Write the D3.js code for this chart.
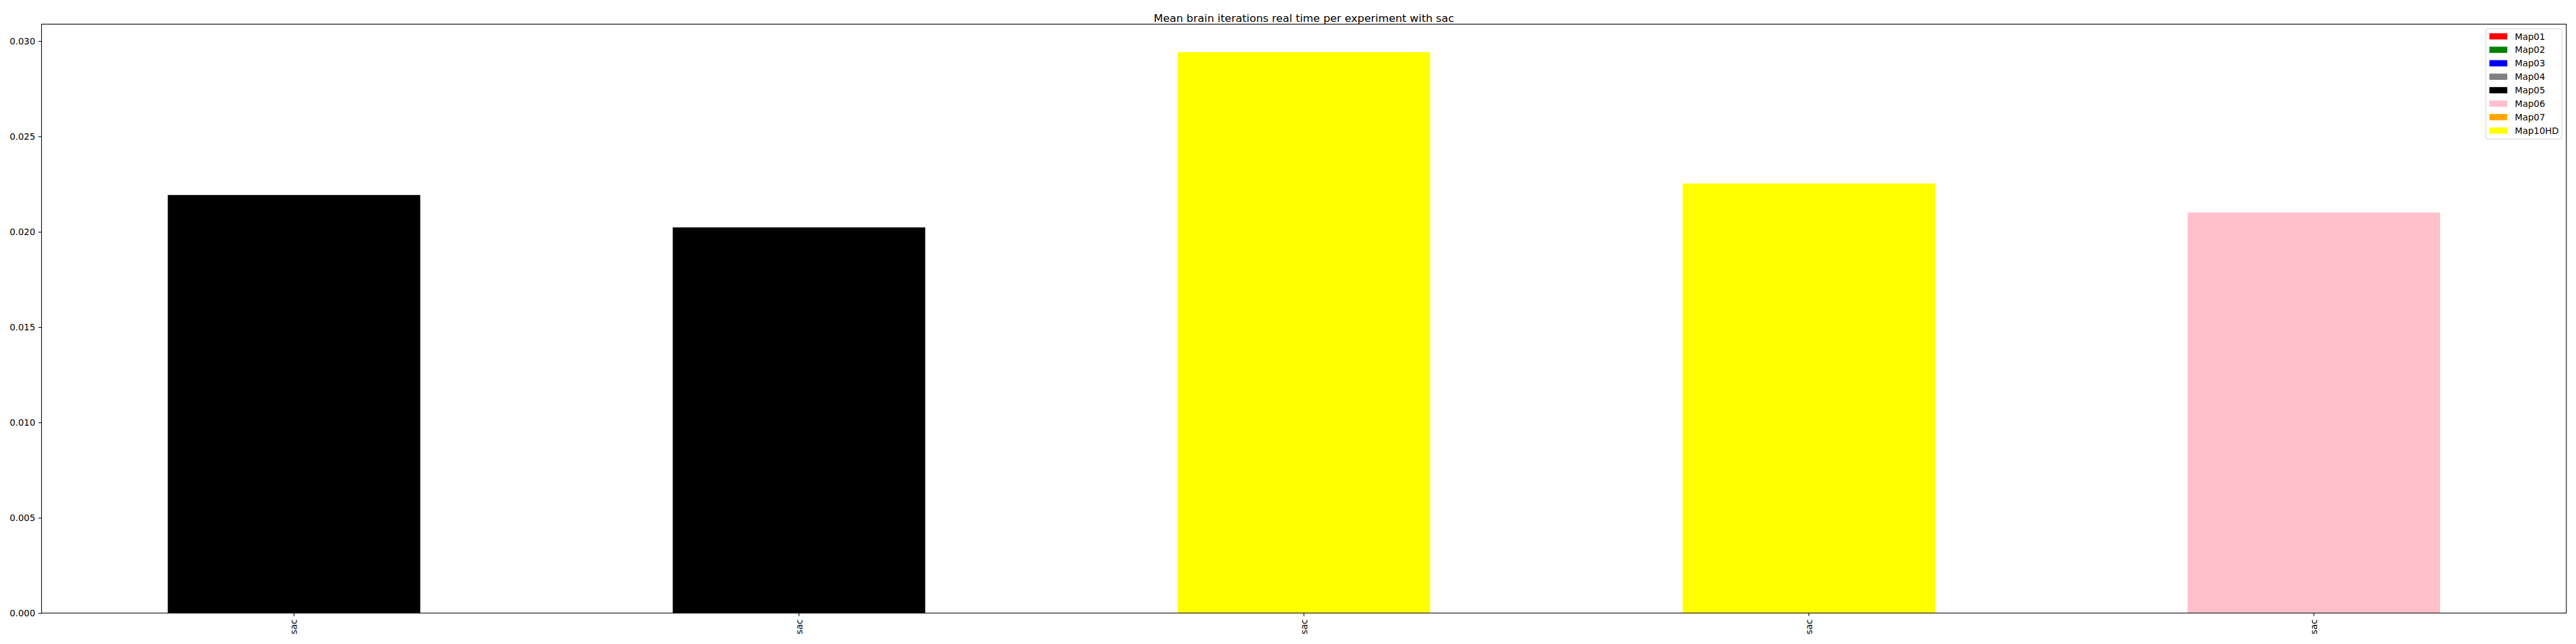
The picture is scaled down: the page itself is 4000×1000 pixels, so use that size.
<!DOCTYPE html>
<html>
<head>
<meta charset="utf-8">
<script src="https://cdn.jsdelivr.net/npm/d3@7"></script>
<style>
  html, body { margin: 0; padding: 0; background: #fff; }
  svg { display: block; font-family: "DejaVu Sans", sans-serif; }
</style>
</head>
<body>
<svg id="chart" width="4000" height="1000"></svg>
<script>
// ---- data ----
const categories = ["sac", "sac", "sac", "sac", "sac"];
const values = [0.02193, 0.02023, 0.02942, 0.02253, 0.02101];
const barMaps = ["Map05", "Map05", "Map10HD", "Map10HD", "Map06"];
const legendLabels = ["Map01", "Map02", "Map03", "Map04", "Map05", "Map06", "Map07", "Map10HD"];
const legendColors = ["red", "green", "blue", "gray", "black", "pink", "orange", "yellow"];
const yTicks = [0.000, 0.005, 0.010, 0.015, 0.020, 0.025, 0.030];
const title = "Mean brain iterations real time per experiment with sac";

// ---- layout ----
const W = 4000, H = 1000;
const margin = { left: 64.5, right: 15, top: 37.5, bottom: 48 };
const plotW = W - margin.left - margin.right;
const plotH = H - margin.top - margin.bottom;

const svg = d3.select("#chart");
const colorOf = d3.scaleOrdinal().domain(legendLabels).range(legendColors);

const idx = categories.map((d, i) => i);
const x = d3.scaleBand().domain(idx).range([margin.left, margin.left + plotW])
  .paddingInner(0.5).paddingOuter(0.25);
const y = d3.scaleLinear().domain([0, d3.max(values) * 1.05]).range([margin.top + plotH, margin.top]);

// bars
svg.append("g").selectAll("rect").data(values).join("rect")
  .attr("x", (d, i) => x(i))
  .attr("width", x.bandwidth())
  .attr("y", d => y(d))
  .attr("height", d => y(0) - y(d))
  .attr("fill", (d, i) => colorOf(barMaps[i]));

// y axis
const yAxis = d3.axisLeft(y).tickValues(yTicks).tickFormat(d3.format(".3f")).tickSize(4.86).tickPadding(4.9);
const gy = svg.append("g").attr("transform", `translate(${margin.left},0)`).call(yAxis);
gy.select(".domain").remove();
gy.selectAll("text").attr("font-size", "13.9px").attr("font-family", "DejaVu Sans").attr("fill", "#000");
gy.selectAll("line").attr("stroke", "#000").attr("stroke-width", 1.1);

// x axis
const xAxis = d3.axisBottom(x).tickFormat(i => categories[i]).tickSize(4.86).tickPadding(0);
const gx = svg.append("g").attr("transform", `translate(0,${margin.top + plotH})`).call(xAxis);
gx.select(".domain").remove();
gx.selectAll("line").attr("stroke", "#000").attr("stroke-width", 1.1);
gx.selectAll("text")
  .attr("font-size", "13.9px").attr("font-family", "DejaVu Sans").attr("fill", "#000")
  .attr("transform", "translate(0,9.7) rotate(-90)")
  .attr("text-anchor", "end").attr("dy", "0.35em").attr("x", 0).attr("y", 0);

// frame
svg.append("rect")
  .attr("x", margin.left).attr("y", margin.top)
  .attr("width", plotW).attr("height", plotH)
  .attr("fill", "none").attr("stroke", "#000").attr("stroke-width", 1.1);

// title
svg.append("text")
  .attr("x", margin.left + plotW / 2).attr("y", margin.top - 4)
  .attr("text-anchor", "middle").attr("font-size", "16.7px").attr("fill", "#000")
  .text(title);

// legend
const lg = svg.append("g");
const lx = 3860, ly = 44.7, lw = 118, rowH = 20.9;
lg.append("rect").attr("x", lx).attr("y", ly).attr("width", lw).attr("height", 171.3)
  .attr("rx", 3).attr("fill", "#fff").attr("fill-opacity", 0.8)
  .attr("stroke", "#d0d0d0").attr("stroke-width", 1);
const rows = lg.selectAll("g.row").data(legendLabels).join("g")
  .attr("transform", (d, i) => `translate(0,${56.5 + i * rowH})`);
rows.append("rect").attr("x", 3865.5).attr("y", -4.9).attr("width", 27.8).attr("height", 9.7)
  .attr("fill", (d, i) => legendColors[i]);
rows.append("text").attr("x", 3905).attr("y", 0).attr("dy", "0.36em")
  .attr("font-size", "13.9px").attr("fill", "#000").text(d => d);
</script>
</body>
</html>
